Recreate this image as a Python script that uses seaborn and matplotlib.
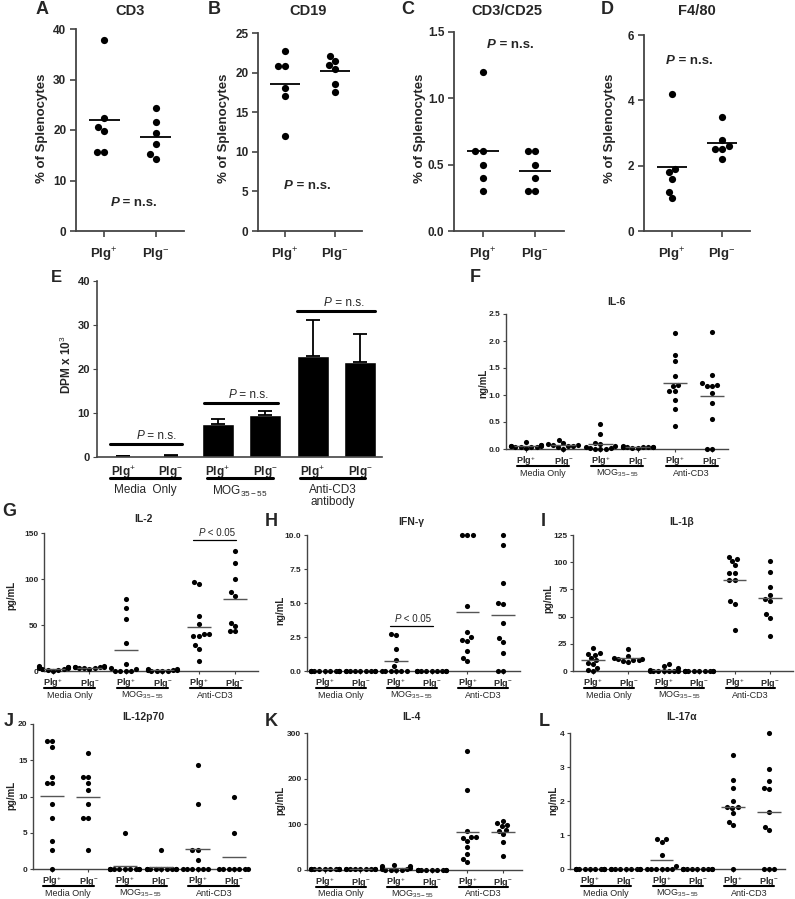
import warnings
import numpy as np
import pandas as pd
import matplotlib
matplotlib.use('Agg')
import matplotlib.pyplot as plt
import seaborn as sns

warnings.filterwarnings('ignore')

# ---- datos A-D (% de esplenocitos) ----
cd3_pos = [37.9, 22.3, 20.5, 19.8, 15.6, 15.7]
cd3_neg = [24.3, 21.5, 19.5, 17.2, 15.2, 14.2]
cd19_pos = [22.7, 20.8, 20.8, 18.0, 17.0, 12.0]
cd19_neg = [22.1, 21.5, 21.0, 20.4, 18.5, 17.5]
cd25_pos = [1.2, 0.6, 0.6, 0.5, 0.4, 0.3]
cd25_neg = [0.6, 0.6, 0.5, 0.4, 0.3, 0.3]
f480_pos = [4.2, 1.9, 1.8, 1.6, 1.2, 1.0]
f480_neg = [3.5, 2.8, 2.6, 2.5, 2.5, 2.2]

# ---- datos E (DPM x 10^3) ----
dpm_media = [0.2, 0.3, 7.4, 9.6, 22.9, 21.7]
dpm_sem = [0.1, 0.1, 1.3, 0.8, 8.2, 6.3]

# ---- citoquinas: Media+, Media-, MOG+, MOG-, CD3+, CD3- ----
il6 = [[0.13, 0.08, 0.07, 0.06, 0.05, 0.05, 0.04, 0.04, 0.03, 0.03, 0.02],
       [0.17, 0.12, 0.09, 0.08, 0.07, 0.06, 0.05, 0.03, 0.0],
       [0.47, 0.27, 0.12, 0.10, 0.05, 0.03, 0.02, 0.01, 0.0, 0.0, 0.0],
       [0.05, 0.04, 0.04, 0.04, 0.03, 0.03, 0.03, 0.03, 0.02, 0.02],
       [2.14, 1.75, 1.63, 1.36, 1.18, 1.16, 1.07, 1.07, 0.91, 0.75, 0.43],
       [2.16, 1.37, 1.22, 1.19, 1.16, 1.16, 1.03, 0.86, 0.56, 0.0, 0.0]]
il2 = [[5, 4, 4, 3, 3, 2, 2, 1, 1, 0, 4],
       [5, 4, 4, 4, 3, 3, 3, 2, 4],
       [78, 69, 56, 30, 8, 3, 0, 0, 0, 0, 2],
       [2, 2, 1, 1, 1, 0, 0, 0, 0, 1],
       [97, 95, 60, 51, 40, 38, 38, 40, 28, 24, 11],
       [130, 117, 100, 86, 82, 52, 49, 44, 43]]
ifng = [[0] * 11,
        [0] * 9,
        [2.7, 2.65, 1.6, 0.8, 0.35, 0, 0, 0, 0, 0, 0],
        [0] * 10,
        [10, 10, 10, 4.8, 2.85, 2.5, 2.2, 2.3, 1.45, 0.95, 0.7],
        [10, 9.3, 6.45, 5.0, 4.9, 3.5, 2.4, 2.15, 1.35, 0, 0]]
il1b = [[21, 17, 16, 15, 12, 10, 7, 6, 3, 1, 0],
        [20, 14, 12, 11, 11, 10, 10, 9, 8],
        [6, 5, 3, 1, 0, 0, 0, 0, 0, 0, 0],
        [0] * 10,
        [105, 103, 101, 97, 90, 90, 84, 84, 64, 62, 38],
        [101, 91, 77, 70, 64, 66, 52, 49, 32]]
il12 = [[17.6, 17.6, 16.8, 12.7, 11.8, 11.8, 9.0, 7.1, 3.8, 2.6, 0],
        [16.0, 12.7, 12.7, 11.8, 10.9, 9.0, 7.1, 7.1, 2.6],
        [5.0, 0, 0, 0, 0, 0, 0, 0, 0, 0, 0],
        [2.6, 0, 0, 0, 0, 0, 0, 0, 0, 0],
        [14.4, 9.0, 2.6, 2.6, 1.2, 0, 0, 0, 0, 0, 0],
        [10, 5, 0, 0, 0, 0, 0, 0, 0]]
il4 = [[2] * 11,
       [2] * 9,
       [10, 8, 6, 4, 2, 0, 0, 0, 0, 3, 9],
       [1] * 10,
       [260, 175, 85, 72, 70, 72, 63, 50, 35, 25, 18],
       [108, 102, 99, 96, 88, 85, 78, 62, 31]]
il17 = [[0] * 11,
        [0] * 9,
        [0.88, 0.88, 0.8, 0.4, 0.08, 0, 0, 0, 0, 0, 0],
        [0] * 10,
        [3.35, 2.62, 2.37, 2.0, 1.82, 1.82, 1.8, 1.65, 1.37, 1.28, 0],
        [4.0, 2.95, 2.6, 2.38, 2.35, 1.67, 1.25, 1.15, 0, 0, 0]]

plg = ['Plg$^{+}$', 'Plg$^{-}$']
estimulos = ['Media Only', 'MOG$_{35-55}$', 'Anti-CD3']

sns.set_style('ticks')
plt.rcParams['font.family'] = ['Liberation Sans', 'DejaVu Sans']
plt.rcParams['mathtext.fontset'] = 'custom'
plt.rcParams['mathtext.rm'] = 'Liberation Sans'
plt.rcParams['mathtext.it'] = 'Liberation Sans:italic'
plt.rcParams['mathtext.bf'] = 'Liberation Sans:bold'

W, H = 795, 899
fig = plt.figure(figsize=(W / 100, H / 100), dpi=100)


def caja(l, t, r, b):
    return [l / W, 1 - b / H, (r - l) / W, (b - t) / H]


def ftext(x, y, s, **kw):
    fig.text(x / W, 1 - y / H, s, ha='center', va='center', **kw)


def ptexto(ax, x, y, resto, size, weight):
    t = ax.text(x, y, 'P', style='italic', weight=weight, fontsize=size, va='center', ha='left')
    ax.annotate(resto, xy=(1, 0), xycoords=t, va='bottom', ha='left', fontsize=size, weight=weight)


def ejes(ax, lw):
    sns.despine(ax=ax)
    for s in ['left', 'bottom']:
        ax.spines[s].set_color('#444444')
        ax.spines[s].set_linewidth(lw)
    ax.set_xlabel('')
    ax.set_ylabel('')


def puntos(ax, grupos, size, half, lw, col):
    df = pd.DataFrame({'g': [i for i, v in enumerate(grupos) for _ in v],
                       'v': [x for v in grupos for x in v]})
    sns.swarmplot(data=df, x='g', y='v', color='black', size=size, ax=ax,
                  linewidth=0, clip_on=False, zorder=3)
    for i, v in enumerate(grupos):
        ax.hlines(np.mean(v), i - half, i + half, color=col, lw=lw, zorder=4)


# ---------------- A-D ----------------
paneles_ad = [
    ('A', 'CD3', cd3_pos, cd3_neg, (76, 29, 184, 231), [0, 10, 20, 30, 40], ['0', '10', '20', '30', '40'],
     42, 130, (0.12, 5.5)),
    ('B', 'CD19', cd19_pos, cd19_neg, (258, 33, 362, 231), [0, 5, 10, 15, 20, 25],
     ['0', '5', '10', '15', '20', '25'], 214, 308, (-0.02, 5.7)),
    ('C', 'CD3/CD25', cd25_pos, cd25_neg, (454, 32, 564, 231), [0, 0.5, 1.0, 1.5],
     ['0.0', '0.5', '1.0', '1.5'], 408, 507, (0.08, 1.40)),
    ('D', 'F4/80', f480_pos, f480_neg, (644, 35, 750, 231), [0, 2, 4, 6], ['0', '2', '4', '6'],
     607, 697, (-0.12, 5.2)),
]
for letra, titulo, pos, neg, r, yt, ytl, lx, tx, pxy in paneles_ad:
    ax = fig.add_axes(caja(*r))
    puntos(ax, [pos, neg], 5.2, 0.3, 1.3, 'black')
    ejes(ax, 1.3)
    ax.set_ylim(yt[0], yt[-1])
    ax.set_xlim(-0.55, 1.55)
    ax.set_yticks(yt, ytl, fontsize=8.5, fontweight='bold')
    ax.set_xticks([0, 1], plg, fontsize=9.5, fontweight='bold')
    ax.tick_params(length=4, width=1.2, color='#444444', pad=3)
    ax.tick_params(axis='x', pad=7)
    ptexto(ax, pxy[0], pxy[1], ' = n.s.', 9.5, 'bold')
    ftext(lx, 10, letra, fontsize=13, fontweight='bold')
    ftext(tx, 11, titulo, fontsize=10.5, fontweight='bold')
    ftext(r[0] - 34, 128, '% of Splenocytes', fontsize=9.5, fontweight='bold', rotation=90)

# ---------------- E ----------------
axE = fig.add_axes(caja(97, 281, 382, 457))
sns.barplot(x=list(range(6)), y=dpm_media, color='black', saturation=1, width=0.68,
            errorbar=None, ax=axE)
axE.errorbar(range(6), dpm_media, yerr=[np.zeros(6), dpm_sem], fmt='none',
             ecolor='black', elinewidth=1.3, capsize=5, capthick=1.3)
ejes(axE, 1.2)
axE.set_ylim(0, 40)
axE.set_xlim(-0.55, 5.46)
axE.set_yticks([0, 10, 20, 30, 40], ['0', '10', '20', '30', '40'], fontsize=8, fontweight='bold')
axE.set_xticks(range(6), plg * 3, fontsize=8.5, fontweight='bold')
axE.tick_params(axis='y', length=3, color='#444444', pad=2)
axE.tick_params(axis='x', length=0, pad=5)
hE = 457 - 281
for (a, b), ysig, xt in [((-0.27, 1.24), 3.0, 0.28), ((1.71, 3.27), 12.3, 2.22), ((3.67, 5.32), 33.1, 4.23)]:
    axE.plot([a, b], [ysig, ysig], color='black', lw=2.2, clip_on=False)
    ptexto(axE, xt, ysig + 1.8, ' = n.s.', 8.5, 'normal')
for (a, b), nom in zip([(-0.27, 1.21), (1.77, 3.16), (3.73, 5.1)],
                       ['Media  Only', 'MOG$_{35-55}$', 'Anti-CD3\nantibody']):
    axE.plot([a, b], [-21 / hE] * 2, transform=axE.get_xaxis_transform(), color='black', lw=2.2,
             clip_on=False)
    axE.text((a + b) / 2, -27 / hE, nom, transform=axE.get_xaxis_transform(), ha='center', va='top',
             fontsize=8.5, linespacing=1.0)
ftext(56, 277, 'E', fontsize=12, fontweight='bold')
ftext(66, 365, 'DPM x 10$^{3}$', fontsize=8.5, fontweight='bold', rotation=90)

# ---------------- F-L ----------------
paneles = [
    ('F', 'IL-6', 'ng/mL', il6, (506, 314, 728, 449), (-0.54, 5.43),
     [0, 0.5, 1.0, 1.5, 2.0, 2.5], ['0.0', '0.5', '1.0', '1.5', '2.0', '2.5'],
     (475, 277), (616, 302), (483, 383), None),
    ('G', 'IL-2', 'pg/mL', il2, (44, 533, 258, 671), (-0.25, 5.63),
     [0, 50, 100, 150], ['0', '50', '100', '150'],
     (9, 512), (143, 519), (11, 595), ((3.85, 5.03), 142.7, 4.0, 149.5)),
    ('H', 'IFN-γ', 'ng/mL', ifng, (307, 535, 520, 671), (-0.5, 5.48),
     [0, 2.5, 5.0, 7.5, 10.0], ['0.0', '2.5', '5.0', '7.5', '10.0'],
     (271, 522), (411, 522), (280, 610), ((1.83, 3.03), 3.33, 1.95, 3.8)),
    ('I', 'IL-1β', 'pg/mL', il1b, (573, 535, 793, 671), (-0.56, 5.65),
     [0, 25, 50, 75, 100, 125], ['0', '25', '50', '75', '100', '125'],
     (543, 522), (682, 522), (548, 598), None),
    ('J', 'IL-12p70', 'pg/mL', il12, (33, 724, 247, 869), (-0.52, 5.36),
     [0, 5, 10, 15, 20], ['0', '5', '10', '15', '20'],
     (9, 722), (143, 717), (11, 795), None),
    ('K', 'IL-4', 'pg/mL', il4, (307, 733, 522, 870), (-0.5, 5.53),
     [0, 100, 200, 300], ['0', '100', '200', '300'],
     (271, 722), (411, 717), (280, 800), None),
    ('L', 'IL-17α', 'ng/mL', il17, (570, 733, 785, 869), (-0.56, 5.45),
     [0, 1, 2, 3, 4], ['0', '1', '2', '3', '4'],
     (544, 722), (682, 717), (553, 800), None),
]
for letra, titulo, ylab, datos, r, xl, yt, ytl, lxy, txy, yxy, sig in paneles:
    ax = fig.add_axes(caja(*r))
    puntos(ax, datos, 3.7, 0.33, 1.0, '#555555')
    ejes(ax, 1.0)
    ax.set_ylim(yt[0], yt[-1])
    ax.set_xlim(*xl)
    ax.set_yticks(yt, ytl, fontsize=6, fontweight='bold')
    ax.set_xticks(range(6), plg * 3, fontsize=6.5, fontweight='bold')
    ax.tick_params(length=2.5, width=0.8, color='#444444', pad=1.5)
    h = r[3] - r[1]
    for g, nom in enumerate(estimulos):
        a, b = 2 * g - 0.25, 2 * g + 1.15
        ax.plot([a, b], [-17 / h] * 2, transform=ax.get_xaxis_transform(), color='black', lw=1.5,
                clip_on=False)
        ax.text((a + b) / 2, -24 / h, nom, transform=ax.get_xaxis_transform(), ha='center',
                va='center', fontsize=6.5)
    if sig is not None:
        (a, b), ys, xt, yt2 = sig
        ax.plot([a, b], [ys, ys], color='black', lw=0.9, clip_on=False)
        ptexto(ax, xt, yt2, ' < 0.05', 7, 'normal')
    ftext(*lxy, letra, fontsize=13, fontweight='bold')
    ftext(*txy, titulo, fontsize=7.5, fontweight='bold')
    ftext(*yxy, ylab, fontsize=7, fontweight='bold', rotation=90)

fig.savefig('out.png', dpi=100)
